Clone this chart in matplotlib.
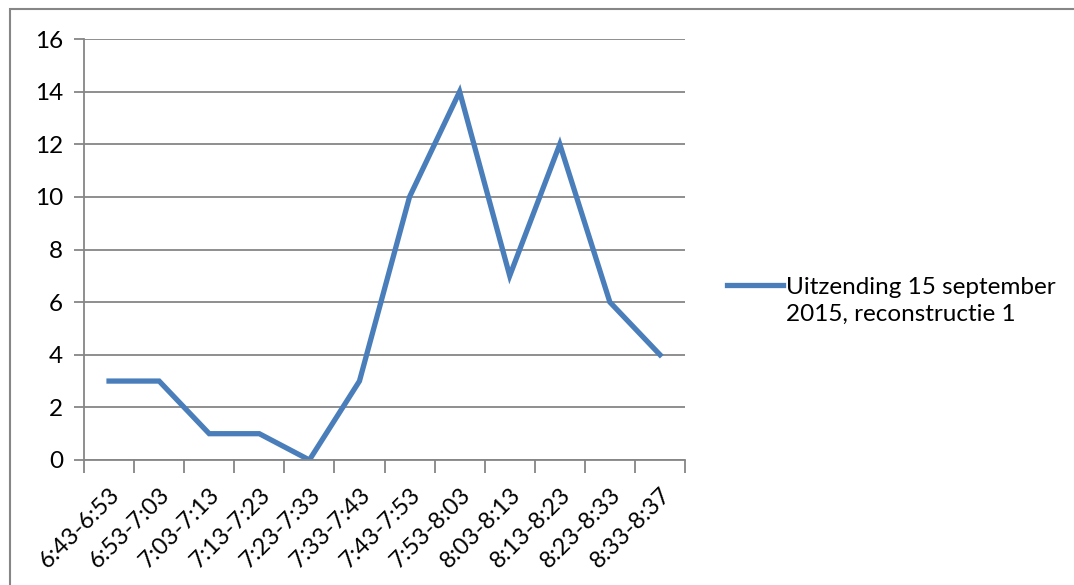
import matplotlib.pyplot as plt
from matplotlib.patches import Rectangle
from matplotlib.legend_handler import HandlerLine2D
import numpy as np

plt.rcParams['font.family'] = ['Lato', 'DejaVu Sans']

# Data
periods = ["6:43-6:53", "6:53-7:03", "7:03-7:13", "7:13-7:23", "7:23-7:33",
           "7:33-7:43", "7:43-7:53", "7:53-8:03", "8:03-8:13", "8:13-8:23",
           "8:23-8:33", "8:33-8:37"]
counts = [3, 3, 1, 1, 0, 3, 10, 14, 7, 12, 6, 4]
series_name = "Uitzending 15 september\n2015, reconstructie 1"

W, H = 1074, 585
fig = plt.figure(figsize=(W / 100, H / 100), dpi=100)
ax = fig.add_axes([84 / W, 1 - 460 / H, (685 - 84) / W, (460 - 39) / H])

grey = "#868686"
blue = "#4A7EBB"


class TopLineHandler(HandlerLine2D):
    # put the legend line next to the first text line, like Excel does
    def create_artists(self, *args, **kwargs):
        artists = super().create_artists(*args, **kwargs)
        for a in artists:
            a.set_ydata(np.asarray(a.get_ydata()) + 11.5)
        return artists


# Outer chart border (right/bottom edges fall outside the picture)
fig.patches.append(Rectangle((10 / W, -0.1), 1.2, 1 - 9 / H + 0.1,
                             transform=fig.transFigure, fill=False,
                             edgecolor=grey, linewidth=1.5))

x = np.arange(len(periods))
line, = ax.plot(x, counts, color=blue, linewidth=3.8, solid_joinstyle='miter')

ax.set_xlim(-0.5, len(periods) - 0.5)
ax.set_ylim(0, 16)
ax.set_yticks(range(0, 17, 2))
ax.yaxis.grid(True, color=grey, linewidth=1.3)
ax.set_axisbelow(True)

# category ticks sit between categories
ax.set_xticks(np.arange(-0.5, len(periods)), minor=False)
ax.set_xticklabels([])
ax.set_xticks(x, minor=True)
ax.set_xticklabels(periods, minor=True, rotation=45, ha='right',
                   rotation_mode='anchor', fontsize=17)
ax.tick_params(axis='x', which='major', length=9, width=1.3, color=grey,
               direction='out')
ax.tick_params(axis='x', which='minor', length=0, pad=17)
ax.tick_params(axis='y', length=7, width=1.3, color=grey, labelsize=17.5, pad=8)

for s in ["top", "right"]:
    ax.spines[s].set_visible(False)
for s in ["left", "bottom"]:
    ax.spines[s].set_color(grey)
    ax.spines[s].set_linewidth(1.3)

leg = fig.legend([line], [series_name], loc='center left',
                 bbox_to_anchor=(717 / W, 1 - 301 / H), frameon=False,
                 fontsize=17.5, handlelength=2.3, handletextpad=0.15,
                 borderaxespad=0, handler_map={line: TopLineHandler()})
for t in leg.get_texts():
    t.set_linespacing(1.35)

fig.savefig("out.png", dpi=100)
